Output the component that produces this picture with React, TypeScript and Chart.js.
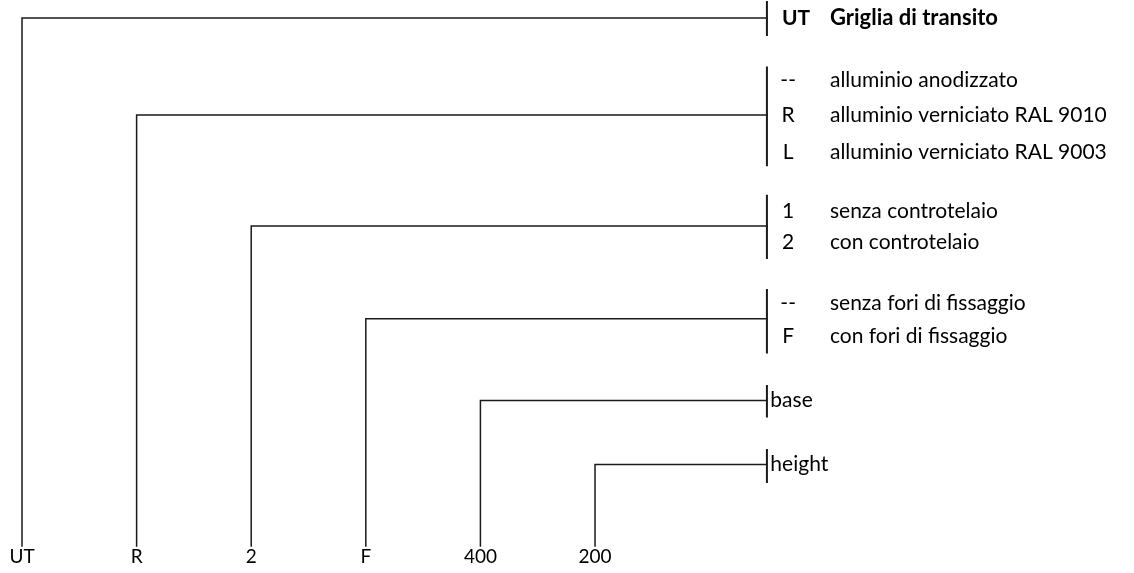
import React, { useEffect, useRef } from "react";
import { Chart, registerables } from "chart.js";

Chart.register(...registerables);

// ---- data ----
const codeLabels = ["UT", "R", "2", "F", "400", "200"];
const connectorLevels = [0, 3.03, 6.5, 9.4, 11.95, 13.95];
const groupBarTop = [-0.5, 1.55, 5.55, 8.5, 11.5, 13.5];
const groupBarBottom = [0.53, 4.6, 7.5, 10.45, 12.45, 14.5];

const headerCode = "UT";
const headerText = "Griglia di transito";
const headerRow = 0;

const finishCodes = ["--", "R", "L"];
const finishTexts = ["alluminio anodizzato", "alluminio verniciato RAL 9010", "alluminio verniciato RAL 9003"];
const finishRows = [1.95, 3.05, 4.2];

const frameCodes = ["1", "2"];
const frameTexts = ["senza controtelaio", "con controtelaio"];
const frameRows = [6.05, 7.0];

const holeCodes = ["--", "F"];
const holeTexts = ["senza fori di fissaggio", "con fori di fissaggio"];
const holeRows = [8.9, 9.95];

const sizeTexts = ["base", "height"];
const sizeRows = [11.95, 13.95];

const junctionX = 6.5;
const lineBottom = 16.5;
const codeRowBottom = 16.84;
const codeColX = 6.685;
const descColX = 7.05;
const sizeColX = 6.53;

const LINE = "#1a1a1a";
const FONT = "Lato, 'Open Sans', sans-serif";

export default function App() {
  const ref = useRef<HTMLCanvasElement | null>(null);

  useEffect(() => {
    document.body.style.margin = "0";
    const canvas = ref.current;
    if (!canvas) return;

    const datasets: any[] = [];
    codeLabels.forEach((_, i) => {
      datasets.push({
        data: [
          { x: i, y: lineBottom },
          { x: i, y: connectorLevels[i] },
          { x: junctionX, y: connectorLevels[i] },
        ],
        showLine: true,
        borderColor: LINE,
        borderWidth: 1.5,
        pointRadius: 0,
        fill: false,
      });
      datasets.push({
        data: [
          { x: junctionX, y: groupBarTop[i] },
          { x: junctionX, y: groupBarBottom[i] },
        ],
        showLine: true,
        borderColor: LINE,
        borderWidth: 2,
        pointRadius: 0,
        fill: false,
      });
    });

    const textPlugin = {
      id: "diagramText",
      afterDatasetsDraw(chart: any) {
        const ctx = chart.ctx;
        const xs = chart.scales.x;
        const ys = chart.scales.y;
        const px = (v: number) => xs.getPixelForValue(v);
        const py = (v: number) => ys.getPixelForValue(v);
        ctx.save();
        ctx.fillStyle = "#000";
        ctx.textBaseline = "middle";

        // bottom code labels
        ctx.font = `19px ${FONT}`;
        ctx.textAlign = "center";
        codeLabels.forEach((c, i) => ctx.fillText(c, px(i), py(codeRowBottom)));

        // header
        ctx.font = `bold 21px ${FONT}`;
        ctx.textAlign = "center";
        ctx.fillText(headerCode, px(codeColX) + 8, py(headerRow));
        ctx.textAlign = "left";
        ctx.font = `bold 22px ${FONT}`;
        ctx.fillText(headerText, px(descColX), py(headerRow));

        ctx.font = `21px ${FONT}`;
        const drawGroup = (codes: string[], texts: string[], rows: number[]) => {
          codes.forEach((c, k) => {
            ctx.textAlign = "center";
            ctx.fillText(c, px(codeColX), py(rows[k]));
            ctx.textAlign = "left";
            ctx.fillText(texts[k], px(descColX), py(rows[k]));
          });
        };
        drawGroup(finishCodes, finishTexts, finishRows);
        drawGroup(frameCodes, frameTexts, frameRows);
        drawGroup(holeCodes, holeTexts, holeRows);

        ctx.textAlign = "left";
        sizeTexts.forEach((t, k) => ctx.fillText(t, px(sizeColX), py(sizeRows[k])));
        ctx.restore();
      },
    };

    const chart = new Chart(canvas, {
      type: "scatter",
      data: { datasets },
      options: {
        animation: false,
        responsive: false,
        maintainAspectRatio: false,
        layout: { padding: 0 },
        plugins: { legend: { display: false }, tooltip: { enabled: false }, title: { display: false } },
        scales: {
          x: { type: "linear", min: -0.192, max: 9.703, display: false },
          y: { type: "linear", min: -0.5625, max: 17.34, reverse: true, display: false },
        },
        elements: { line: { tension: 0, borderCapStyle: "square", borderJoinStyle: "miter" } },
      },
      plugins: [textPlugin],
    });

    return () => chart.destroy();
  }, []);

  return (
    <div style={{ width: 1134, height: 573, background: "#fff" }}>
      <canvas ref={ref} width={1134} height={573} style={{ display: "block" }} />
    </div>
  );
}
